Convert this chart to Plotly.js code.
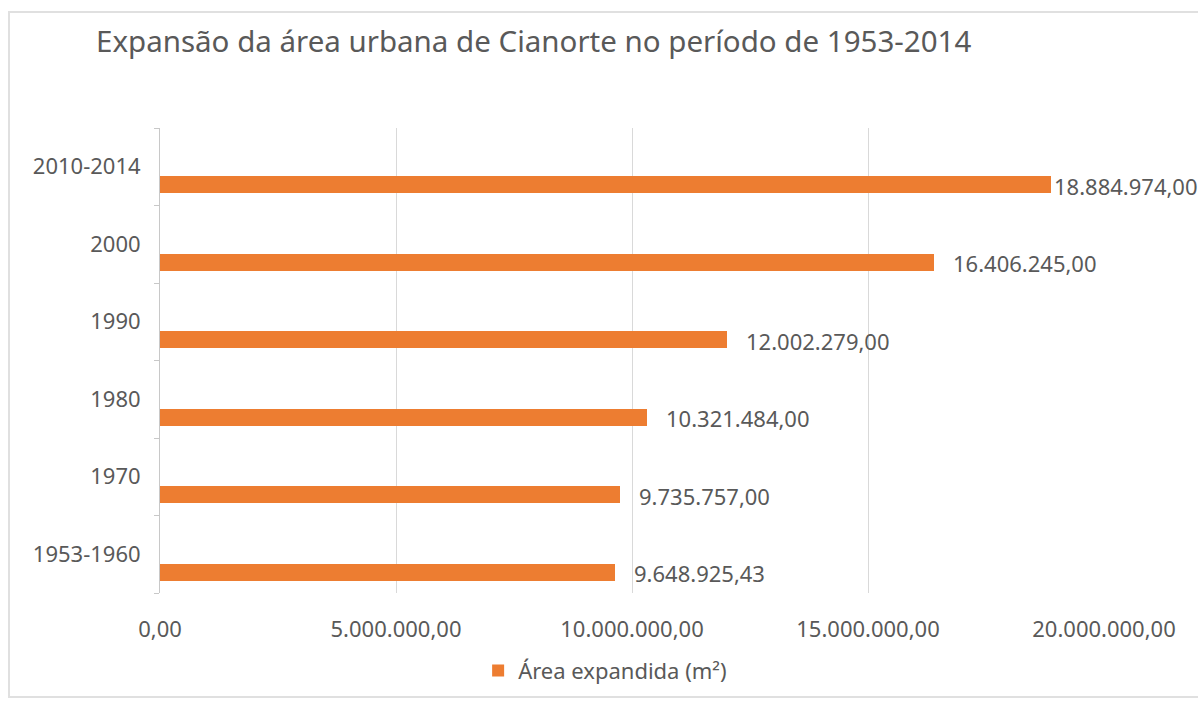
<!DOCTYPE html>
<html>
<head>
<meta charset="utf-8">
<script src="https://cdn.plot.ly/plotly-3.0.1.min.js"></script>
<style>
  html, body { margin: 0; padding: 0; background: #ffffff; }
  #frame { position: absolute; left: 8px; top: 11px; width: 1300px; height: 687px; border: 2px solid #e0e0e0; box-sizing: border-box; }
  #chart { position: absolute; left: 0; top: 0; width: 1198px; height: 704px; }
</style>
</head>
<body>
<div id="frame"></div>
<div id="chart"></div>
<script>
const categories = ["1953-1960", "1970", "1980", "1990", "2000", "2010-2014"];
const areaValues = [9648925.43, 9735757.00, 10321484.00, 12002279.00, 16406245.00, 18884974.00];
const seriesName = "Área expandida (m²)";
const chartTitle = "Expansão da área urbana de Cianorte no período de 1953-2014";
const xTickVals = [0, 5000000, 10000000, 15000000, 20000000];

const fmt = new Intl.NumberFormat("pt-BR", { minimumFractionDigits: 2, maximumFractionDigits: 2 });
const labelText = areaValues.map(v => fmt.format(v));
const xTickText = xTickVals.map(v => fmt.format(v));

const FONT = "Noto Sans, Open Sans, sans-serif";
const TXT = "#595959";

const trace = {
  type: "bar",
  orientation: "h",
  x: areaValues,
  y: categories,
  name: seriesName,
  marker: { color: "#ED7D31" },
  offset: -0.34,
  width: 0.215,
  hoverinfo: "x+y",
  showlegend: true
};

// y given as category index so numeric-looking names ("1970") are not misread
const annotations = areaValues.map((v, i) => ({
  x: v, y: i, xref: "x", yref: "y",
  text: labelText[i], showarrow: false,
  xanchor: "left", yanchor: "middle",
  xshift: (i === areaValues.length - 1) ? 1 : 17,
  yshift: -19,
  font: { family: FONT, size: 22, color: TXT }
}));

const layout = {
  width: 1198, height: 704,
  margin: { l: 160, r: 94, t: 128, b: 104, pad: 0 },
  paper_bgcolor: "rgba(0,0,0,0)",
  plot_bgcolor: "rgba(0,0,0,0)",
  separators: ",.",
  title: {
    text: chartTitle,
    x: 96 / 1198, xref: "container", xanchor: "left",
    y: 1 - 42 / 704, yref: "container", yanchor: "middle",
    font: { family: FONT, size: 29.5, color: TXT }
  },
  xaxis: {
    range: [0, 20000000],
    tickvals: xTickVals,
    ticktext: xTickText,
    showgrid: true, gridcolor: "#d9d9d9", gridwidth: 1,
    zeroline: false, showline: false, ticks: "",
    ticklabelstandoff: 21,
    tickfont: { family: FONT, size: 22, color: TXT },
    fixedrange: true
  },
  yaxis: {
    type: "category",
    categoryorder: "array", categoryarray: categories,
    range: [-0.5, categories.length - 0.5],
    showgrid: false, zeroline: false,
    showline: true, linecolor: "#c8c8c8", linewidth: 1,
    ticks: "outside", tickson: "boundaries", ticklen: 5, tickcolor: "#c8c8c8",
    ticklabelstandoff: 14,
    tickfont: { family: FONT, size: 22, color: TXT },
    fixedrange: true
  },
  showlegend: true,
  legend: {
    orientation: "h",
    x: 0.337, xanchor: "left",
    y: -0.122, yanchor: "top",
    font: { family: FONT, size: 22, color: TXT },
    itemwidth: 30,
    bgcolor: "rgba(0,0,0,0)"
  },
  annotations: annotations,
  bargap: 0
};

Plotly.newPlot("chart", [trace], layout, { displayModeBar: false, staticPlot: true });
</script>
</body>
</html>
